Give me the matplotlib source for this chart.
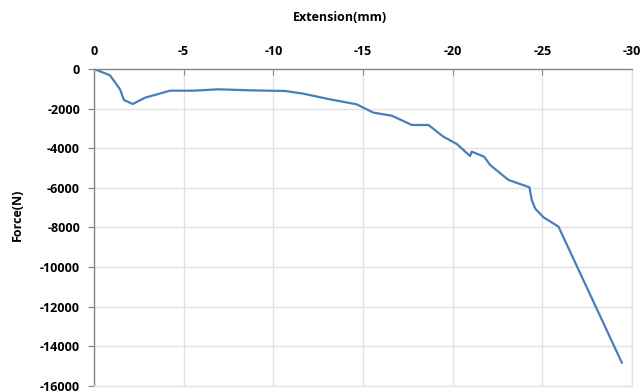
import matplotlib
matplotlib.use("Agg")
import matplotlib.pyplot as plt
import numpy as np

# extension (mm) and force (N) from the compression test
extension = [0, -0.89, -1.45, -1.67, -2.16, -2.84, -4.24, -5.54, -6.93, -8.7,
             -10.65, -11.67, -13.16, -14.65, -15.58, -16.6, -17.72, -18.65,
             -19.48, -20.23, -20.97, -21.06, -21.75, -22.09, -23.11, -24.28,
             -24.41, -24.6, -25.06, -25.9, -29.43]
force = [0, -318, -1025, -1566, -1768, -1450, -1095, -1095, -1025, -1077,
         -1110, -1246, -1532, -1785, -2205, -2357, -2828, -2828,
         -3418, -3788, -4394, -4175, -4428, -4848, -5606, -5975,
         -6616, -7050, -7490, -7964, -14833]

xticks = [0, -5, -10, -15, -20, -25, -30]
yticks = [0, -2000, -4000, -6000, -8000, -10000, -12000, -14000, -16000]

plt.rcParams['font.family'] = ['Open Sans', 'DejaVu Sans']

fig = plt.figure(figsize=(6.43, 3.91), dpi=100)
ax = fig.add_axes([0.1462, 0.0136, 0.8367, 0.8099])

ax.plot(extension, force, color='#4a7ebb', lw=1.6)

ax.set_xlim(0, -30)
ax.set_ylim(-16000, 0)
ax.set_xticks(xticks)
ax.set_yticks(yticks)
ax.set_xticklabels([str(t) for t in xticks], fontweight='bold', fontsize=9)
ax.set_yticklabels([str(t) for t in yticks], fontweight='bold', fontsize=9)

ax.xaxis.tick_top()
ax.xaxis.set_label_position('top')
ax.tick_params(axis='x', direction='in', length=4, color='#868686', pad=8)
ax.tick_params(axis='y', direction='out', length=4, color='#868686', pad=6)

ax.grid(True, color='#e3e3e3', lw=1)
ax.set_axisbelow(True)
# outer edges drawn in the grid colour
for s in ['right', 'bottom']:
    ax.spines[s].set_color('#e3e3e3')
    ax.spines[s].set_linewidth(1)
for s in ['top', 'left']:
    ax.spines[s].set_color('#868686')
    ax.spines[s].set_linewidth(1)

fig.text(0.529, 0.955, 'Extension(mm)', ha='center', va='center',
         fontweight='bold', fontsize=9)
fig.text(0.027, 0.45, 'Force(N)', ha='center', va='center',
         rotation=90, fontweight='bold', fontsize=9)

fig.savefig('out.png', dpi=100)
